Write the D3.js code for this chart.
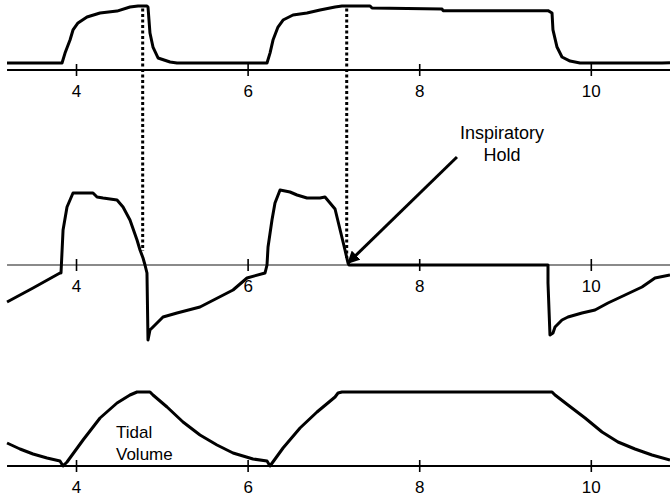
<!DOCTYPE html>
<html><head><meta charset="utf-8">
<script src="https://cdn.jsdelivr.net/npm/d3@7"></script>
<style>body{margin:0;background:#fff}svg{display:block}</style>
</head><body>
<svg id="c" width="670" height="496"></svg>
<script>
// ---- data ----
const tickValues = [4, 6, 8, 10];
const timeDomain = [3.114, 10.923];
const axisStart = 3.196;

const pressureT = [3.196,3.837,3.872,3.930,3.965,4.023,4.128,4.280,4.478,4.629,4.723,4.827,4.839,4.862,4.897,4.956,5.096,5.177,6.226,6.261,6.296,6.354,6.413,6.529,6.692,6.844,7.019,7.100,7.427,7.450,8.266,8.277,9.501,9.548,9.559,9.606,9.664,9.758,9.874,10.83,10.923];
const pressureV = [5,5,12.1,21.4,28.6,33.6,37.9,40.7,42.1,45,45.7,45.7,45,26.4,16.4,8.6,5.7,5,5,12.1,21.4,30.7,35.7,39.3,40.7,42.9,45,45.7,45.7,44.3,43.6,42.4,42.4,40.7,28.6,16.4,9.3,6.4,5,5,5.2];

const flowT = [3.196,3.499,3.813,3.825,3.849,3.895,3.930,3.965,4.198,4.245,4.315,4.478,4.548,4.629,4.711,4.746,4.781,4.804,4.827,4.839,4.862,4.944,5.014,5.177,5.445,5.830,5.993,6.203,6.226,6.238,6.284,6.319,6.378,6.494,6.576,6.692,6.844,6.902,7.019,7.135,7.170,7.182,9.501,9.501,9.524,9.559,9.583,9.664,9.734,9.897,10.049,10.200,10.399,10.597,10.748,10.923];
const flowV = [-37,-23,-8,-8,35,58,65,72,72,68,67,65,58,45,25,15,7,0,-8,-75,-65,-58,-52,-48,-42,-25,-13,-8,0,18,45,62,75,73,70,67,67,68,56,15,2,0,0,-18,-70,-68,-62,-55,-52,-48,-45,-38,-30,-22,-13,-10];

const volumeT = [3.196,3.347,3.499,3.662,3.813,3.849,3.895,4.082,4.280,4.478,4.629,4.711,4.862,4.897,5.061,5.247,5.445,5.643,5.830,6.063,6.226,6.261,6.413,6.611,6.809,7.019,7.054,7.100,9.548,9.583,9.734,9.933,10.131,10.317,10.515,10.713,10.923];
const volumeV = [161,119,84,56,35,0,28,182,336,441,497,518,518,497,413,308,217,147,91,49,35,0,126,266,378,483,511,518,518,497,427,336,238,168,119,77,42];

// hold markers: time, top (pressure), bottom (flow)
const holdT = [4.777, 7.155];
const holdPressure = [44, 44];
const holdFlow = [14, 7];

// annotations
const arrowFrom = {t: 8.44, flow: 108};
const arrowTo = {t: 7.17, flow: 2};
const holdLabel = ["Inspiratory", "Hold"];
const holdLabelPos = {t: 8.965, flow: 126};
const tidalLabel = ["Tidal", "Volume"];
const tidalLabelPos = {t: 4.478, volume: 199};

// ---- drawing ----
const svg = d3.select("#c");
const W = 670;
const x = d3.scaleLinear().domain(timeDomain).range([0, W]);
const yP = d3.scaleLinear().domain([0, 46]).range([70, 5.6]);
const yF = d3.scaleLinear().domain([-80, 80]).range([345, 185]);
const yV = d3.scaleLinear().domain([0, 518]).range([466, 392]);

const FONT = "Liberation Sans, Arial, Helvetica, sans-serif";

svg.append("defs").append("marker")
  .attr("id", "ah").attr("viewBox", "0 0 10 10")
  .attr("refX", 9).attr("refY", 5)
  .attr("markerWidth", 4.2).attr("markerHeight", 4.2)
  .attr("orient", "auto")
  .append("path").attr("d", "M0,0 L10,5 L0,10 z").attr("fill", "#000");

function drawAxis(y0, color) {
  const g = svg.append("g").attr("transform", `translate(0,${y0})`);
  g.append("line")
    .attr("x1", x(axisStart)).attr("x2", W)
    .attr("stroke", color).attr("stroke-width", 2);
  const ax = d3.axisBottom(x).tickValues(tickValues).tickSize(0).tickFormat(d3.format("d"));
  const a = g.append("g").call(ax);
  a.select(".domain").remove();
  a.selectAll(".tick line").attr("y1", -6).attr("y2", 6)
    .attr("stroke", "#000").attr("stroke-width", 1.6);
  a.selectAll(".tick text").attr("y", 27).attr("dy", 0)
    .attr("fill", "#000").attr("font-size", 17).attr("font-family", FONT);
}

drawAxis(yP(0), "#000");
drawAxis(yF(0), "#8a8a8a");
drawAxis(yV(0), "#000");

// hold dotted lines
holdT.forEach((t, i) => {
  svg.append("line")
    .attr("x1", x(t)).attr("x2", x(t))
    .attr("y1", yP(holdPressure[i])).attr("y2", yF(holdFlow[i]))
    .attr("stroke", "#000").attr("stroke-width", 3)
    .attr("stroke-dasharray", "3,2.5");
});

function trace(T, V, y) {
  const pts = T.map((t, i) => [x(t), y(V[i])]);
  svg.append("path")
    .attr("d", d3.line()(pts))
    .attr("fill", "none").attr("stroke", "#000")
    .attr("stroke-width", 3).attr("stroke-linejoin", "round");
}
trace(pressureT, pressureV, yP);
trace(flowT, flowV, yF);
trace(volumeT, volumeV, yV);

// arrow
svg.append("line")
  .attr("x1", x(arrowFrom.t)).attr("y1", yF(arrowFrom.flow))
  .attr("x2", x(arrowTo.t)).attr("y2", yF(arrowTo.flow))
  .attr("stroke", "#000").attr("stroke-width", 3)
  .attr("marker-end", "url(#ah)");

const hl = svg.append("text")
  .attr("x", x(holdLabelPos.t)).attr("y", yF(holdLabelPos.flow))
  .attr("text-anchor", "middle").attr("font-size", 18).attr("font-family", FONT).attr("fill", "#000");
holdLabel.forEach((s, i) => hl.append("tspan").attr("x", x(holdLabelPos.t)).attr("dy", i ? 21.5 : 0).text(s));

const tl = svg.append("text")
  .attr("x", x(tidalLabelPos.t) - 1).attr("y", yV(tidalLabelPos.volume))
  .attr("text-anchor", "start").attr("font-size", 17).attr("font-family", FONT).attr("fill", "#000");
tidalLabel.forEach((s, i) => tl.append("tspan").attr("x", x(tidalLabelPos.t) - 1).attr("dy", i ? 22.3 : 0).text(s));
</script>
</body></html>
